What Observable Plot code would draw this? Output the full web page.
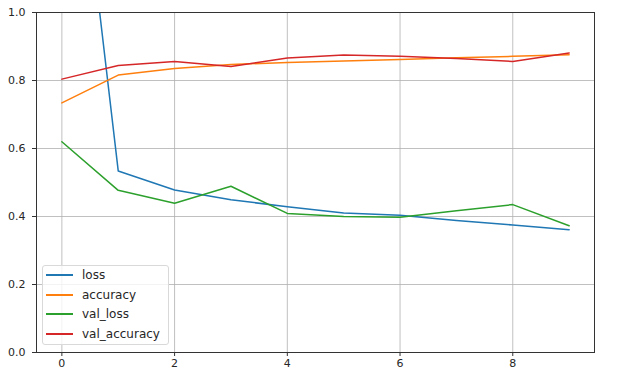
<!DOCTYPE html>
<html>
<head>
<meta charset="utf-8">
<script src="https://cdn.jsdelivr.net/npm/d3@7"></script>
<script src="https://cdn.jsdelivr.net/npm/@observablehq/plot@0.6"></script>
<style>
  html, body { margin: 0; padding: 0; background: #fff; }
  #wrap { position: relative; width: 617px; height: 385px; }
  #legend {
    position: absolute; left: 42px; top: 265px; width: 127px; height: 80px;
    border: 1px solid #d9d9d9; border-radius: 3px; background: rgba(255,255,255,0.8);
    font-family: "DejaVu Sans", sans-serif; font-size: 12px; color: #262626;
    box-sizing: border-box;
  }
  .row { position: absolute; left: 3px; height: 16px; display: flex; align-items: center; }
  .sw { width: 27px; height: 0; border-top: 2px solid; margin-right: 9px; }
</style>
</head>
<body>
<div id="wrap"></div>
<script>
const epochs = [0, 1, 2, 3, 4, 5, 6, 7, 8, 9];
const loss = [1.95, 0.534, 0.478, 0.449, 0.429, 0.41, 0.404, 0.388, 0.375, 0.361];
const accuracy = [0.734, 0.816, 0.835, 0.847, 0.853, 0.857, 0.862, 0.867, 0.871, 0.876];
const val_loss = [0.62, 0.477, 0.439, 0.489, 0.409, 0.4, 0.398, 0.417, 0.435, 0.373];
const val_accuracy = [0.804, 0.844, 0.856, 0.841, 0.866, 0.875, 0.871, 0.865, 0.856, 0.881];
const seriesNames = ["loss", "accuracy", "val_loss", "val_accuracy"];
const seriesColors = ["#1f77b4", "#ff7f0e", "#2ca02c", "#d62728"];
const xTicks = [0, 2, 4, 6, 8];
const yTicks = [0, 0.2, 0.4, 0.6, 0.8, 1.0];

const seriesValues = [loss, accuracy, val_loss, val_accuracy];
const data = seriesNames.flatMap((name, i) =>
  epochs.map((e, j) => ({series: name, epoch: e, value: seriesValues[i][j]})));

const plot = Plot.plot({
  width: 617,
  height: 385,
  marginLeft: 36,
  marginRight: 23,
  marginTop: 12,
  marginBottom: 33,
  style: {fontFamily: "DejaVu Sans, sans-serif", fontSize: "11px", color: "#262626", background: "#fff"},
  x: {domain: [-0.45, 9.45]},
  y: {domain: [0, 1]},
  color: {domain: seriesNames, range: seriesColors},
  marks: [
    Plot.gridX(xTicks, {stroke: "#b0b0b0", strokeOpacity: 0.8, strokeWidth: 1}),
    Plot.gridY(yTicks, {stroke: "#b0b0b0", strokeOpacity: 0.8, strokeWidth: 1}),
    Plot.line(data, {x: "epoch", y: "value", z: "series", stroke: "series", strokeWidth: 1.5, clip: true}),
    Plot.frame({stroke: "#333", strokeWidth: 1, strokeOpacity: 1}),
    Plot.axisX(xTicks, {tickSize: 4, tickPadding: 3, label: null, stroke: "#333", fill: "#262626"}),
    Plot.axisY(yTicks, {tickSize: 4, tickPadding: 7, label: null, tickFormat: d => d.toFixed(1), stroke: "#333", fill: "#262626"})
  ]
});

const wrap = document.getElementById("wrap");
wrap.appendChild(plot);

const legend = document.createElement("div");
legend.id = "legend";
seriesNames.forEach((name, i) => {
  const row = document.createElement("div");
  row.className = "row";
  row.style.top = (1 + i * 19.5) + "px";
  const sw = document.createElement("div");
  sw.className = "sw";
  sw.style.borderColor = seriesColors[i];
  const lab = document.createElement("span");
  lab.textContent = name;
  row.appendChild(sw);
  row.appendChild(lab);
  legend.appendChild(row);
});
wrap.appendChild(legend);
</script>
</body>
</html>
